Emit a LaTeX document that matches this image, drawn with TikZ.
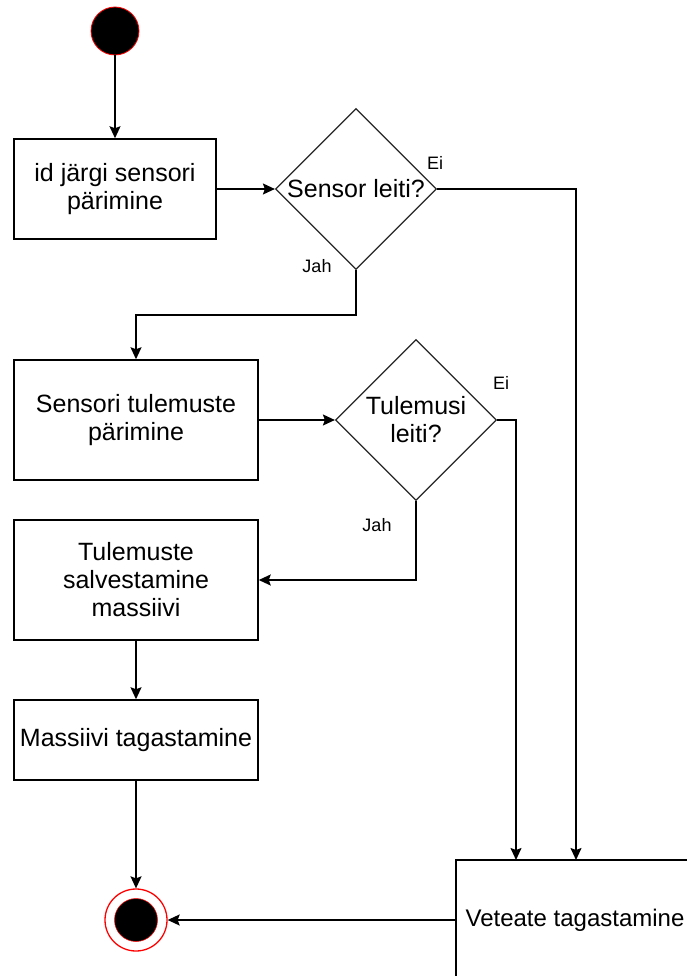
\documentclass[tikz,border=0pt]{standalone}
\usepackage{fontspec}
\setmainfont{Liberation Sans}
\usetikzlibrary{shapes.geometric,arrows.meta}

\tikzset{
  stepbox/.style={draw=black, line width=1.5pt, fill=white, align=center,
    inner sep=0pt, font=\fontsize{25}{28}\selectfont},
  decision/.style={diamond, draw=black!85, line width=1.2pt, fill=white, align=center,
    inner sep=0pt, aspect=1, minimum width=161pt, minimum height=161pt,
    font=\fontsize{25}{28}\selectfont},
  arr/.style={draw=black, line width=1.6pt,
    -{Stealth[length=12pt,width=11pt,inset=2pt]}},
  branch/.style={font=\fontsize{18}{20}\selectfont, inner sep=0pt},
}

\begin{document}
\begin{tikzpicture}[x=1pt, y=-1pt]
  \useasboundingbox (0,0) rectangle (686,976);

  % initial state
  \node (start) [circle, fill=black, draw=red, line width=0.8pt,
    minimum size=48pt, inner sep=0pt] at (115,31) {};

  % actions and decisions
  \node (b1) [stepbox, minimum width=202pt, minimum height=100pt] at (115,189)
    {id järgi sensori\\pärimine};
  \node (d1) [decision] at (356,189) {Sensor leiti?};
  \node (b2) [stepbox, minimum width=244pt, minimum height=120pt] at (136,420)
    {Sensori tulemuste\\pärimine};
  \node (d2) [decision] at (416,420) {Tulemusi\\leiti?};
  \node (b3) [stepbox, minimum width=244pt, minimum height=120pt] at (136,580)
    {Tulemuste\\salvestamine\\massiivi};
  \node (b4) [stepbox, minimum width=244pt, minimum height=80pt] at (136,740)
    {Massiivi tagastamine};
  \node (fin) [stepbox, minimum width=238pt, minimum height=120pt,
    font=\fontsize{24}{28}\selectfont] at (575,920)
    {Veteate tagastamine};

  % final state
  \node (stop) [circle, draw=red, line width=1.3pt, fill=white,
    minimum size=62pt, inner sep=0pt] at (136,920) {};
  \node (stopdot) [circle, fill=black, draw=red, line width=0.5pt,
    minimum size=43pt, inner sep=0pt] at (136,920) {};

  % bends and entry points
  \coordinate (j1) at (356,315);
  \coordinate (e1) at (576,860);
  \coordinate (e2) at (516,860);

  % connectors
  \draw[arr] (start) -- (b1);
  \draw[arr] (b1.east) -- (d1.west);
  \draw[arr] (d1.east) -| (e1);
  \draw[arr] (d1.south) -- (j1) -| (b2.north);
  \draw[arr] (b2.east) -- (d2.west);
  \draw[arr] (d2.east) -| (e2);
  \draw[arr] (d2.south) |- (b3.east);
  \draw[arr] (b3) -- (b4);
  \draw[arr] (b4) -- (stop);
  \draw[arr] (fin.west) -- (stop);

  % branch labels
  \node (ei1) [branch] at (435,163) {Ei};
  \node (jah1) [branch] at (317,266) {Jah};
  \node (ei2) [branch] at (501,383) {Ei};
  \node (jah2) [branch] at (377,525) {Jah};
\end{tikzpicture}
\end{document}
